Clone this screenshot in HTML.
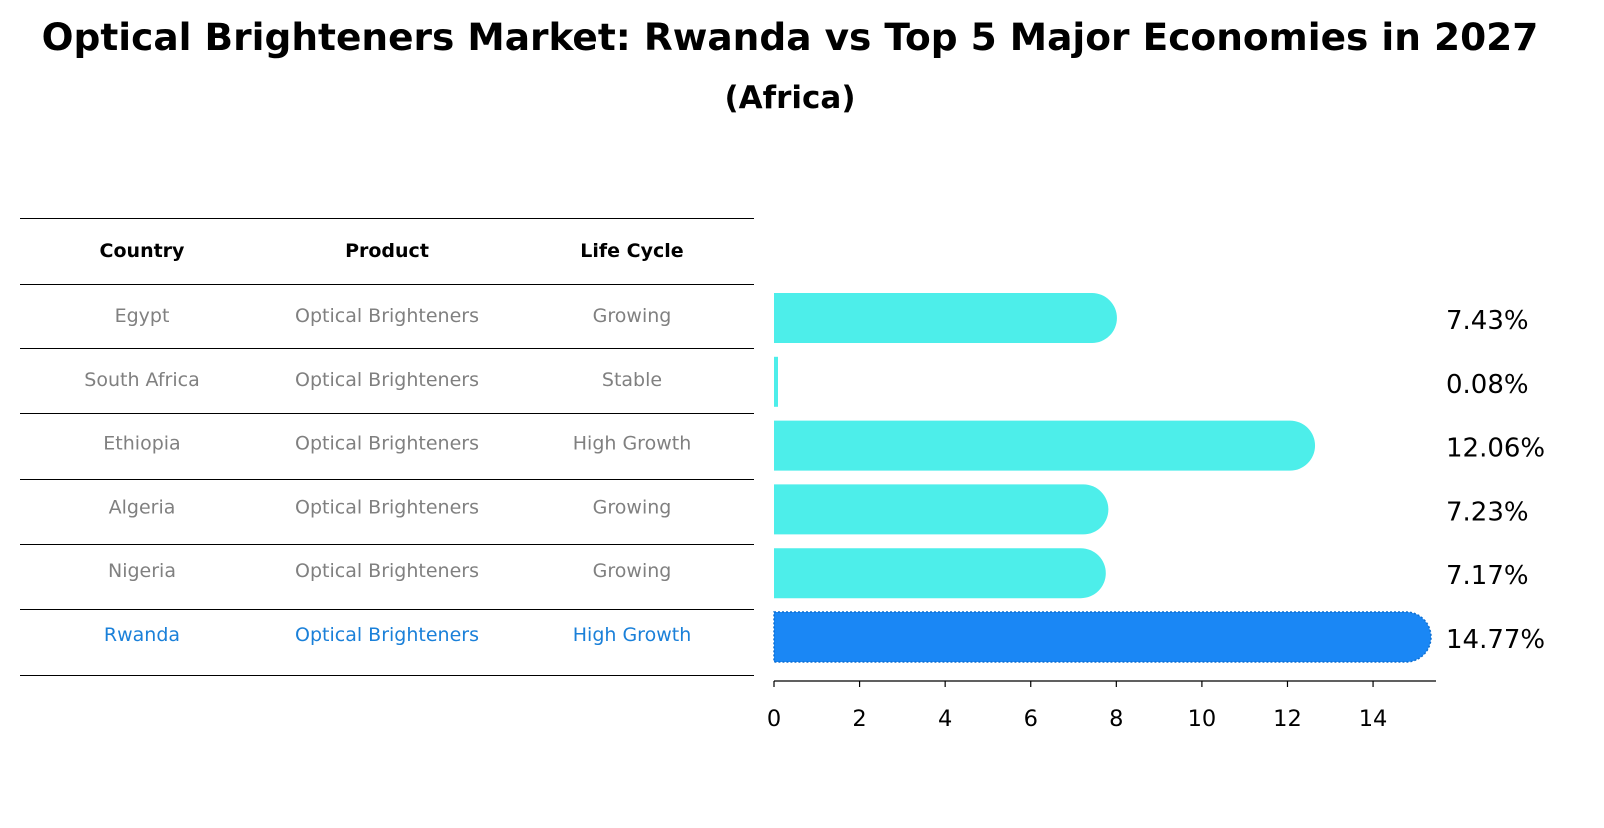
<!DOCTYPE html>
<html><head><meta charset="utf-8"><style>
body{margin:0;background:#fff;font-family:"Liberation Sans","DejaVu Sans",sans-serif}
svg text{font-family:"DejaVu Sans","Liberation Sans",sans-serif}
</style></head><body>
<svg id="c" width="1604" height="823">
<text x="790" y="50" text-anchor="middle" font-size="37.5" font-weight="bold">Optical Brighteners Market: Rwanda vs Top 5 Major Economies in 2027</text>
<text x="790" y="108" text-anchor="middle" font-size="31" font-weight="bold">(Africa)</text>
<g id="tbl"></g>
<g id="bars"></g>
<g id="axis"></g>
</svg>
<script>
const countries=["Egypt","South Africa","Ethiopia","Algeria","Nigeria","Rwanda"];
const products=["Optical Brighteners","Optical Brighteners","Optical Brighteners","Optical Brighteners","Optical Brighteners","Optical Brighteners"];
const lifeCycles=["Growing","Stable","High Growth","Growing","Growing","High Growth"];
const values=[7.43,0.08,12.06,7.23,7.17,14.77];
const valueLabels=["7.43%","0.08%","12.06%","7.23%","7.17%","14.77%"];
const ticks=[0,2,4,6,8,10,12,14];
const NS="http://www.w3.org/2000/svg";
function mk(t,a,p){const e=document.createElementNS(NS,t);for(const k in a)e.setAttribute(k,a[k]);p.appendChild(e);return e;}
const x=v=>774+v*42.79;
const rowY=i=>318+i*63.8;
const tbl=document.getElementById('tbl'),bars=document.getElementById('bars'),axis=document.getElementById('axis');
const lineYs=[218,284,348,413,479,544,609,675];
lineYs.forEach(y=>{const l=mk('line',{x1:20,x2:754,y1:y+0.5,y2:y+0.5,stroke:'#000','stroke-width':1},tbl);

});
const cols=[142,387,632];
["Country","Product","Life Cycle"].forEach((h,j)=>{const t=mk('text',{x:cols[j],y:257,'text-anchor':'middle','font-size':19,'font-weight':'bold'},tbl);t.textContent=h;

});
countries.forEach((c,i)=>{
 const y=rowY(i)+4,col=i==5?'#1a80d9':'#808080';
 [c,products[i],lifeCycles[i]].forEach((s,j)=>{const t=mk('text',{x:cols[j],y:y,'text-anchor':'middle','font-size':19,fill:col},tbl);t.textContent=s;
 
 });
 const h=50,r=25,yc=rowY(i),xe=x(values[i]),fill=i==5?'#1a87f5':'#4deeea';
 const g=mk('g',{},bars);
 
 
 const w=xe-774;
 if(w<6){mk('rect',{x:774,y:yc-h/2,width:4,height:h,fill:fill},g);}
 else{mk('path',{d:`M774 ${yc-h/2} H${xe} A${r} ${r} 0 0 1 ${xe} ${yc+h/2} H774 Z`,fill:fill,stroke:i==5?'#0f6fd0':'none','stroke-dasharray':'2 2','stroke-width':1.5},g);}
 const t=mk('text',{x:1446,y:yc+11,'font-size':26},bars);t.textContent=valueLabels[i];
 
 
});
const al=mk('line',{x1:774,x2:1436,y1:681,y2:681,stroke:'#000','stroke-width':1.2},axis);


ticks.forEach(v=>{mk('line',{x1:x(v),x2:x(v),y1:681,y2:687,stroke:'#000','stroke-width':1.2},axis);
 const t=mk('text',{x:x(v),y:726,'text-anchor':'middle','font-size':22.5},axis);t.textContent=v;
 
 });
</script>
</body></html>
